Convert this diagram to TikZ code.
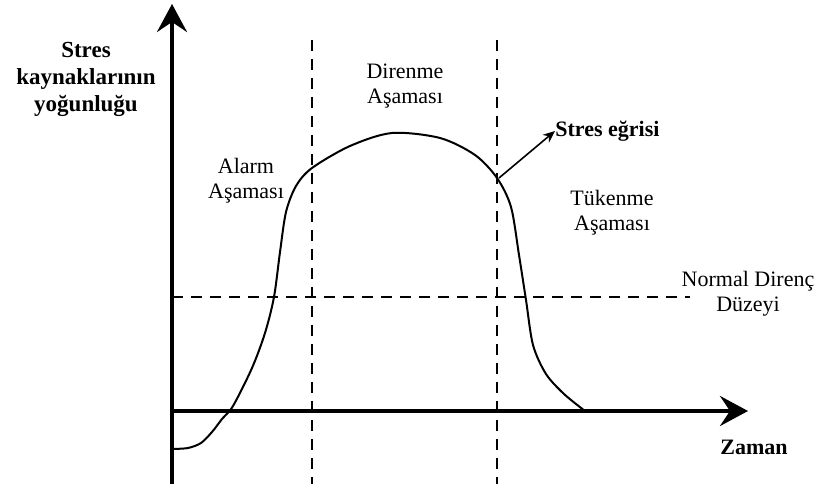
\documentclass[tikz,border=0pt]{standalone}
\usepackage{fontspec}
\setmainfont{Liberation Serif}
\usetikzlibrary{arrows.meta}

\tikzset{
  axis/.style={line width=2pt, -{Stealth[length=14pt,width=15pt,inset=5pt]}},
  guide/.style={line width=0.9pt, dash pattern=on 5.5pt off 4pt},
  curve/.style={line width=1pt},
  lbl/.style={align=center, font=\fontsize{11}{12.5}\selectfont, inner sep=0pt},
  blbl/.style={lbl, font=\fontsize{11}{13}\selectfont\bfseries}
}

\begin{document}
\begin{tikzpicture}[x=0.5pt,y=-0.5pt]
        \useasboundingbox (0,0) rectangle (822,490);
        % axes
        \coordinate (O) at (172,411);
        \coordinate (ytop) at (172,4);
        \coordinate (ybot) at (172,484);
        \coordinate (xend) at (748,411);
        \draw[axis] (ybot) -- (ytop);
        \draw[axis] (O) -- (xend);
        % phase borders and normal level
        \coordinate (d1t) at (312,40);
        \coordinate (d1b) at (312,484);
        \coordinate (d2t) at (497,40);
        \coordinate (d2b) at (497,484);
        \coordinate (nl) at (172,297);
        \coordinate (nr) at (690,297);
        \draw[guide] (d1t) -- (d1b);
        \draw[guide] (d2t) -- (d2b);
        \draw[guide] (nl) -- (nr);
        % stress curve
        \draw[curve] plot[smooth, tension=0.5] coordinates {(172,449) (188,448) (201,443) (212,432) (222,419) (233,406) (252,368) (265,333) (274,297) (280,252) (286,212) (296,186) (312,168) (350,146) (392,133) (440,138) (475,155) (497,178) (511,207) (519,255) (526,300) (533,345) (546,374) (564,394) (585,411)};
        \coordinate (cp) at (499,178);
        % labels
        \node[blbl, font=\fontsize{11.5}{13.5}\selectfont\bfseries] (ylab) at (86,79) {Stres\\kaynaklarının\\yoğunluğu};
        \node[blbl, anchor=west] (clab) at (555,131) {Stres eğrisi};
        \node[blbl] (xlab) at (754,447) {Zaman};
        \node[lbl] (alarm) at (246,181) {Alarm\\Aşaması};
        \node[lbl] (diren) at (405,86) {Direnme\\Aşaması};
        \node[lbl] (tuken) at (612,213) {Tükenme\\Aşaması};
        \node[lbl] (norm) at (748,294) {Normal Direnç\\Düzeyi};
        \draw[line width=0.8pt, -{Stealth[length=6pt,width=5pt]}] (cp) -- (clab.west);
    \end{tikzpicture}
\end{document}
